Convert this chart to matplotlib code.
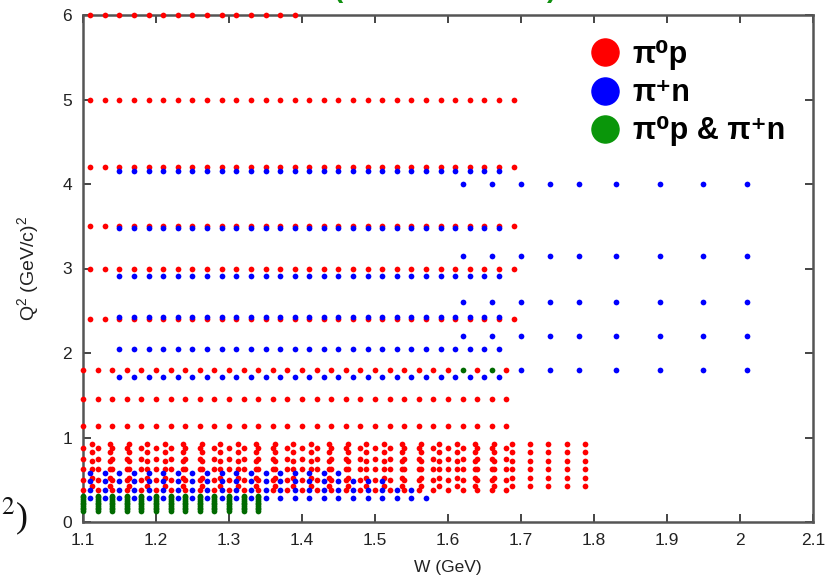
import matplotlib
matplotlib.use("Agg")
import matplotlib.pyplot as plt
from matplotlib.lines import Line2D

# ---------------------------------------------------------------- data
# W grids (GeV)
W_EVEN = [1.10, 1.12, 1.14, 1.16, 1.18, 1.20, 1.22, 1.24, 1.26, 1.28,
          1.30, 1.32, 1.34, 1.36, 1.38, 1.40, 1.42, 1.44, 1.46, 1.48,
          1.50, 1.52, 1.54, 1.56, 1.58, 1.60, 1.62, 1.64, 1.66, 1.68]
W_ODD = [1.11, 1.13, 1.15, 1.17, 1.19, 1.21, 1.23, 1.25, 1.27, 1.29,
         1.31, 1.33, 1.35, 1.37, 1.39, 1.41, 1.43, 1.45, 1.47, 1.49,
         1.51, 1.53, 1.55, 1.57, 1.59, 1.61, 1.63, 1.65, 1.67, 1.69]
W_QTR = [1.1125, 1.1375, 1.1625, 1.1875, 1.2125, 1.2375, 1.2625, 1.2875,
         1.3125, 1.3375, 1.3625, 1.3875, 1.4125, 1.4375, 1.4625, 1.4875,
         1.5125, 1.5375, 1.5625, 1.5875, 1.6125, 1.6375, 1.6625, 1.6875,
         1.7125, 1.7375, 1.7625, 1.7875]
W_HIGH = [1.62, 1.66, 1.70, 1.74, 1.78, 1.83, 1.89, 1.95, 2.01]

# points measured in both channels at Q2 = 1.8
BOTH_Q2_18_W = [1.62, 1.66]
# low-Q2 points measured in both channels
BOTH_LOW_W = W_EVEN[:13]
BOTH_LOW_Q2 = [0.13, 0.15, 0.17, 0.19, 0.21, 0.23, 0.25, 0.27, 0.29, 0.31]

# pi0 p rows: (Q2, W values)
PI0P_ROWS = [
    (6.00, W_ODD[:15]),
    (5.00, W_ODD),
    (4.20, W_ODD),
    (3.50, W_ODD),
    (3.00, W_ODD),
    (2.40, W_ODD),
    (1.80, [w for w in W_EVEN if w not in BOTH_Q2_18_W]),
    (1.45, W_EVEN),
    (1.14, W_EVEN),
]
PI0P_DENSE_Q2_A = [0.425, 0.525, 0.625, 0.725, 0.825, 0.925]   # on W_QTR
PI0P_DENSE_Q2_B = [0.38, 0.50, 0.63, 0.74, 0.87]               # on W_EVEN

# pi+ n rows: (Q2, W values)
PIPN_ROWS = [
    (4.15, W_ODD[2:29]),
    (3.48, W_ODD[2:29]),
    (2.91, W_ODD[2:29]),
    (2.43, W_ODD[2:29]),
    (2.05, W_ODD[2:29]),
    (1.72, W_ODD[2:29]),
    (4.00, W_HIGH),
    (3.15, W_HIGH),
    (2.60, W_HIGH),
    (2.20, W_HIGH),
    (1.80, [w for w in W_HIGH if w not in BOTH_Q2_18_W]),
    (0.58, W_ODD[:18]),
    (0.48, W_ODD[:21]),
    (0.38, W_ODD[:23]),
    (0.28, W_ODD[:24]),
]

X_TICKS = [1.1, 1.2, 1.3, 1.4, 1.5, 1.6, 1.7, 1.8, 1.9, 2.0, 2.1]
X_TICK_LABELS = ["1.1", "1.2", "1.3", "1.4", "1.5", "1.6", "1.7", "1.8",
                 "1.9", "2", "2.1"]
Y_TICKS = [0, 1, 2, 3, 4, 5, 6]

LEGEND_LABELS = ["π⁰p", "π⁺n", "π⁰p & π⁺n"]

RED = "#ff0000"
BLUE = "#0000ff"
GREEN = "#006a00"
GREEN_KEY = "#0a960a"

# ---------------------------------------------------------------- figure
plt.rcParams["font.family"] = ["Liberation Sans", "DejaVu Sans"]
plt.rcParams["mathtext.fontset"] = "custom"
plt.rcParams["mathtext.rm"] = "Liberation Sans"
plt.rcParams["mathtext.it"] = "Liberation Sans:italic"
plt.rcParams["mathtext.bf"] = "Liberation Sans:bold"

fig = plt.figure(figsize=(8.4, 5.82), dpi=100)
ax = fig.add_axes([83 / 840, 1 - 522 / 582, 730 / 840, 507 / 582])


def rows_to_xy(rows):
    xs, ys = [], []
    for q2, ws in rows:
        xs.extend(ws)
        ys.extend([q2] * len(ws))
    return xs, ys


pi0_rows = list(PI0P_ROWS)
pi0_rows += [(q, W_QTR) for q in PI0P_DENSE_Q2_A]
pi0_rows += [(q, W_EVEN) for q in PI0P_DENSE_Q2_B]
both_rows = [(1.80, BOTH_Q2_18_W)] + [(q, BOTH_LOW_W) for q in BOTH_LOW_Q2]

dot = dict(s=17, linewidths=0, clip_on=False)
x, y = rows_to_xy(pi0_rows)
ax.scatter(x, y, color=RED, zorder=3, **dot)
x, y = rows_to_xy(PIPN_ROWS)
ax.scatter(x, y, color=BLUE, zorder=4, **dot)
x, y = rows_to_xy(both_rows)
ax.scatter(x, y, color=GREEN, zorder=5, **dot)

ax.set_xlim(1.1, 2.1)
ax.set_ylim(0, 6)
ax.set_xticks(X_TICKS)
ax.set_xticklabels(X_TICK_LABELS)
ax.set_yticks(Y_TICKS)
ax.tick_params(direction="in", length=6, width=1.4, color="#444444",
               top=True, right=True, labelsize=12.5, labelcolor="#222222",
               pad=8)
for sp in ax.spines.values():
    sp.set_linewidth(1.8)
    sp.set_color("#555555")

ax.set_xlabel("W (GeV)", fontsize=12.5, color="#222222")
ax.set_ylabel(r"Q$^{2}$ (GeV/c)$^{2}$", fontsize=14, color="#222222")
ax.xaxis.set_label_coords(0.5, -0.075)
ax.yaxis.set_label_coords(-0.057, 0.5)

handles = [Line2D([], [], ls="none", marker="o", ms=19.5, mfc=c, mec=c)
           for c in (RED, BLUE, GREEN_KEY)]
ax.legend(handles, LEGEND_LABELS, loc="upper left",
          bbox_to_anchor=(590 / 840, 1 - 40 / 582),
          bbox_transform=fig.transFigure, frameon=False,
          prop={"weight": "bold", "size": 22},
          handlelength=1.0, handletextpad=0.4, labelspacing=0.27,
          borderpad=0, borderaxespad=0)

# title and side text running off the canvas edges
fig.text(338 / 840, 1 + 3 / 582, "(", color="#109010", fontsize=20,
         fontweight="bold", ha="center", va="baseline")
fig.text(552 / 840, 1 + 3 / 582, ")", color="#109010", fontsize=20,
         fontweight="bold", ha="center", va="baseline")
fig.text(28 / 840, 1 - 516 / 582, r"$^{2}$)", fontsize=26,
         family="Liberation Serif", math_fontfamily="stix",
         ha="right", va="center", color="#111111")

fig.savefig("out.png", dpi=100)
